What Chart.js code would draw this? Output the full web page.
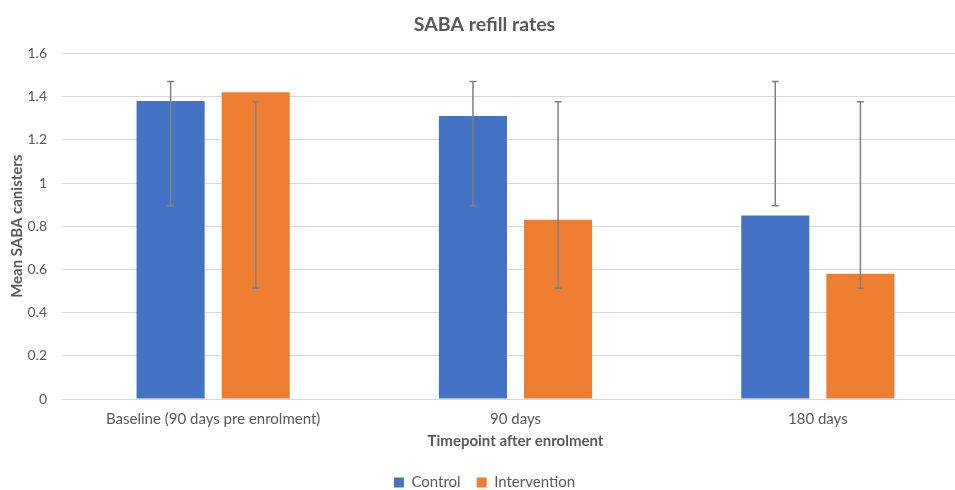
<!DOCTYPE html>
<html>
<head>
<meta charset="utf-8">
<script src="https://cdn.jsdelivr.net/npm/chart.js@4/dist/chart.umd.min.js"></script>
<style>
  html, body { margin: 0; padding: 0; background: #fff; overflow: hidden; }
  #wrap { width: 975px; height: 500px; }
</style>
</head>
<body>
<div id="wrap"><canvas id="saba"></canvas></div>
<script>
const categories = ['Baseline (90 days pre enrolment)', '90 days', '180 days'];
const controlMeans = [1.38, 1.31, 0.85];
const interventionMeans = [1.42, 0.83, 0.58];
// error bar ends as drawn in the picture (same range at each timepoint)
const controlErrLow = [0.895, 0.895, 0.895];
const controlErrHigh = [1.47, 1.47, 1.47];
const interventionErrLow = [0.513, 0.513, 0.513];
const interventionErrHigh = [1.376, 1.376, 1.376];

const textGrey = '#595959';
const font = 'Lato, "Liberation Sans", sans-serif';

const errorBars = {
  id: 'errorBars',
  afterDatasetsDraw(chart) {
    const ctx = chart.ctx;
    const y = chart.scales.y;
    chart.data.datasets.forEach((ds, i) => {
      const meta = chart.getDatasetMeta(i);
      meta.data.forEach((bar, j) => {
        const top = y.getPixelForValue(ds.errHigh[j]);
        const bot = y.getPixelForValue(ds.errLow[j]);
        ctx.save();
        ctx.strokeStyle = '#808080';
        ctx.lineWidth = 1.5;
        ctx.beginPath();
        ctx.moveTo(bar.x, top); ctx.lineTo(bar.x, bot);
        ctx.moveTo(bar.x - 3.5, top); ctx.lineTo(bar.x + 3.5, top);
        ctx.moveTo(bar.x - 3.5, bot); ctx.lineTo(bar.x + 3.5, bot);
        ctx.stroke();
        ctx.restore();
      });
    });
  }
};

new Chart('saba', {
  type: 'bar',
  data: {
    labels: categories,
    datasets: [{
      label: 'Control',
      data: controlMeans,
      errLow: controlErrLow,
      errHigh: controlErrHigh,
      backgroundColor: '#4472c4'
    }, {
      label: 'Intervention',
      data: interventionMeans,
      errLow: interventionErrLow,
      errHigh: interventionErrHigh,
      backgroundColor: '#ed7d31'
    }]
  },
  options: {
    responsive: true,
    maintainAspectRatio: false,
    animation: false,
    datasets: {
      bar: { categoryPercentage: 0.563, barPercentage: 0.8 }
    },
    layout: { padding: { left: 0, right: 6, top: 4, bottom: 0 } },
    plugins: {
      title: {
        display: true,
        text: 'SABA refill rates',
        color: textGrey,
        font: { family: font, size: 19.5, weight: 'bold' },
        padding: { top: 9, bottom: 17 }
      },
      legend: {
        position: 'bottom',
        labels: {
          color: textGrey,
          font: { family: font, size: 15 },
          boxWidth: 10,
          boxHeight: 10,
          padding: 16
        }
      },
      tooltip: { enabled: false }
    },
    scales: {
      x: {
        grid: { display: false },
        border: { display: false },
        ticks: { color: textGrey, font: { family: font, size: 15, lineHeight: 0.8 }, padding: 6 },
        title: {
          display: true,
          text: 'Timepoint after enrolment',
          color: textGrey,
          font: { family: font, size: 15, weight: 'bold', lineHeight: 1 },
          padding: { top: 3, bottom: 10 }
        }
      },
      y: {
        min: 0,
        max: 1.6,
        afterFit(scale) { scale.width = 62; },
        ticks: {
          stepSize: 0.2,
          color: textGrey,
          font: { family: font, size: 14 },
          padding: 15,
          callback: v => String(Number(v.toFixed(1)))
        },
        grid: { color: '#d9d9d9', drawTicks: false },
        border: { display: false },
        title: {
          display: true,
          text: 'Mean SABA canisters',
          color: textGrey,
          font: { family: font, size: 15, weight: 'bold', lineHeight: 1 },
          padding: { top: 10, bottom: 0 }
        }
      }
    }
  },
  plugins: [errorBars]
});
</script>
</body>
</html>
